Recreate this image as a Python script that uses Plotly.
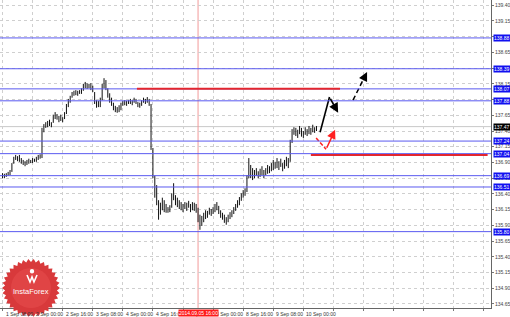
import numpy as np
import plotly.graph_objects as go

# ---------------- data ----------------
tick_bars = [0, 16, 32, 48, 64, 80, 96, 112, 128, 144, 160]
tick_labels = ["1 Sep 08:00", "2 Sep 00:00", "2 Sep 16:00", "3 Sep 08:00", "4 Sep 00:00",
               "4 Sep 16:00", "5 Sep 08:00", "8 Sep 00:00", "8 Sep 16:00", "9 Sep 08:00",
               "10 Sep 00:00"]
grid_bars = [0, 16, 32, 48, 64, 80, 96, 112, 128, 144, 160, 176, 192, 208, 224, 240, 256]

price_ticks = [134.65, 134.90, 135.15, 135.40, 135.65, 135.90, 136.15, 136.40, 136.65,
               136.90, 137.15, 137.40, 137.65, 137.90, 138.15, 138.40, 138.65, 138.90,
               139.15, 139.40]
price_tick_text = ["134.65", "134.90", "135.15", "135.40", "135.65", "135.90", "136.15",
                   "136.40", "136.65", "136.90", "137.15", "137.40", "137.65", "",
                   "138.15", "", "138.65", "", "139.15", "139.40"]

bar_high = [
    136.73, 136.72, 136.73, 136.75, 136.78, 136.89, 136.99, 137.02, 137.00, 137.02,
    136.97, 136.94, 136.92, 136.94, 136.96, 136.94, 136.97, 136.96, 136.99, 137.02,
    137.03, 137.45, 137.51, 137.54, 137.56, 137.58, 137.54, 137.66, 137.70, 137.67,
    137.64, 137.66, 137.62, 137.70, 137.83, 137.91, 137.96, 138.02, 138.04, 138.05,
    138.04, 138.05, 138.08, 138.15, 138.18, 138.16, 138.15, 138.16, 138.12, 138.02,
    137.89, 137.88, 137.93, 138.15, 138.24, 138.21, 138.08, 138.00, 137.93, 137.85,
    137.80, 137.78, 137.81, 137.85, 137.88, 137.89, 137.88, 137.89, 137.91, 137.89,
    137.93, 137.91, 137.86, 137.85, 137.89, 137.93, 137.91, 137.94, 137.91, 137.83,
    137.13, 136.69, 136.54, 136.30, 136.26, 136.34, 136.30, 136.24, 136.19, 136.22,
    136.41, 136.57, 136.38, 136.34, 136.30, 136.27, 136.24, 136.27, 136.26, 136.29,
    136.24, 136.27, 136.26, 136.24, 136.18, 136.07, 136.05, 136.10, 136.14, 136.13,
    136.18, 136.16, 136.19, 136.24, 136.27, 136.21, 136.14, 136.10, 136.07, 136.03,
    136.07, 136.11, 136.14, 136.19, 136.24, 136.30, 136.35, 136.41, 136.46, 136.49,
    136.70, 136.97, 136.86, 136.81, 136.78, 136.81, 136.76, 136.80, 136.84, 136.78,
    136.81, 136.86, 136.84, 136.89, 136.94, 136.91, 136.97, 136.92, 136.96, 136.89,
    136.94, 136.99, 136.97, 137.26, 137.43, 137.46, 137.45, 137.42, 137.48, 137.45,
    137.40, 137.46, 137.43, 137.48, 137.45, 137.50, 137.46, 137.48]

bar_low = [
    136.65, 136.65, 136.67, 136.69, 136.70, 136.75, 136.88, 136.94, 136.92, 136.91,
    136.88, 136.86, 136.84, 136.86, 136.88, 136.89, 136.89, 136.91, 136.91, 136.94,
    136.96, 136.97, 137.38, 137.45, 137.46, 137.48, 137.46, 137.53, 137.59, 137.58,
    137.54, 137.56, 137.54, 137.59, 137.67, 137.78, 137.85, 137.93, 137.96, 137.97,
    137.96, 137.99, 137.99, 138.04, 138.08, 138.07, 138.08, 138.05, 138.02, 137.83,
    137.77, 137.78, 137.78, 137.89, 138.08, 138.05, 137.93, 137.85, 137.80, 137.73,
    137.70, 137.69, 137.70, 137.73, 137.80, 137.81, 137.80, 137.83, 137.83, 137.81,
    137.85, 137.83, 137.78, 137.77, 137.80, 137.85, 137.83, 137.85, 137.80, 137.10,
    136.65, 136.34, 136.22, 135.99, 136.07, 136.14, 136.11, 136.10, 136.10, 136.11,
    136.18, 136.30, 136.22, 136.19, 136.16, 136.14, 136.11, 136.16, 136.13, 136.18,
    136.11, 136.14, 136.13, 136.10, 135.95, 135.83, 135.89, 135.95, 136.00, 136.02,
    136.07, 136.05, 136.08, 136.11, 136.14, 136.08, 136.02, 135.99, 135.94, 135.91,
    135.95, 136.00, 136.03, 136.08, 136.13, 136.18, 136.22, 136.29, 136.34, 136.37,
    136.43, 136.65, 136.65, 136.62, 136.65, 136.69, 136.65, 136.67, 136.70, 136.65,
    136.70, 136.72, 136.73, 136.76, 136.78, 136.80, 136.81, 136.78, 136.83, 136.76,
    136.80, 136.84, 136.81, 136.91, 137.21, 137.34, 137.32, 137.29, 137.35, 137.31,
    137.29, 137.34, 137.32, 137.35, 137.34, 137.38, 137.37, 137.40]

blue_levels = [138.88, 138.39, 138.07, 137.88, 137.24, 137.04, 136.69, 136.51, 135.80]
blue_labels = ["138.88", "138.39", "138.07", "137.88", "137.24", "137.04", "136.69",
               "136.51", "135.80"]
red_levels = [138.07, 137.02]
red_starts = [71.5, 164.0]
red_ends = [179.5, 258.0]
current_price = 137.47
current_label = "137.47"
marker_bar = 104
marker_label = "2014.09.05 16:00"

# forecast drawings (bar, price)
black_path_x = [168.9, 173.9, 178.5]
black_path_y = [137.38, 137.94, 137.69]
dash_path_x = [186.4, 193.9]
dash_path_y = [137.89, 138.34]
red_path_x = [166.8, 172.1, 176.9]
red_path_y = [137.29, 137.11, 137.42]

# ---------------- figure ----------------
W, H = 510, 317
ML, MR, MT, MB = 0, 19, 0, 9
PW, PH = W - ML - MR, H - MT - MB
XR = [-1.33, 259.8]
YR = [134.586, 139.483]
FONT = "Liberation Sans"

seg_x, seg_y = [], []
for i, (hi, lo) in enumerate(zip(bar_high, bar_low)):
    seg_x += [i, i, None]
    seg_y += [lo, hi, None]

fig = go.Figure()
fig.add_trace(go.Scatter(x=seg_x, y=seg_y, mode="lines",
                         line=dict(color="#111111", width=1), hoverinfo="skip",
                         showlegend=False))

shapes = []
shapes.append(dict(type="line", xref="paper", x0=0, x1=1, yref="y", y0=current_price,
                   y1=current_price, line=dict(color="#c8c8c8", width=1), layer="below"))
shapes.append(dict(type="line", xref="x", x0=marker_bar, x1=marker_bar, yref="paper",
                   y0=0, y1=1, line=dict(color="#f29a9a", width=1), layer="below"))
for lv in blue_levels:
    shapes.append(dict(type="line", xref="paper", x0=0, x1=1, yref="y", y0=lv, y1=lv,
                       line=dict(color="#5a5af0", width=1)))
for lv, a, b in zip(red_levels, red_starts, red_ends):
    shapes.append(dict(type="line", xref="x", x0=a, x1=b, yref="y", y0=lv, y1=lv,
                       line=dict(color="#e3262e", width=2)))

# InstaForex badge (decoration)
cx, cy = 31, 288
n = 34
pts = []
for i in range(2 * n):
    r = 29 if i % 2 == 0 else 26
    ang = np.pi * i / n
    pts.append(((cx + r * np.cos(ang)) / PW, (PH - (cy + r * np.sin(ang))) / PH))
path = "M " + " L ".join(f"{x:.4f},{y:.4f}" for x, y in pts) + " Z"
shapes.append(dict(type="path", xref="paper", yref="paper", path=path,
                   fillcolor="#d8393b", line=dict(width=0), layer="above"))
shapes.append(dict(type="circle", xref="paper", yref="paper",
                   x0=(cx - 20) / PW, x1=(cx + 20) / PW,
                   y0=(PH - cy - 20) / PH, y1=(PH - cy + 20) / PH,
                   fillcolor="rgba(240,90,90,0.35)", line=dict(width=0), layer="above"))
ix, iy = 32, 277
shapes.append(dict(type="circle", xref="paper", yref="paper",
                   x0=(ix - 2.2) / PW, x1=(ix + 2.2) / PW,
                   y0=(PH - iy + 3.5) / PH, y1=(PH - iy + 7.9) / PH,
                   fillcolor="white", line=dict(width=0), layer="above"))
icon = [(ix - 5, iy - 2), (ix - 2, iy + 5), (ix, iy), (ix + 2, iy + 5), (ix + 5, iy - 2)]
shapes.append(dict(type="path", xref="paper", yref="paper",
                   path="M " + " L ".join(f"{x / PW:.4f},{(PH - y) / PH:.4f}" for x, y in icon),
                   line=dict(color="white", width=1.6), layer="above"))

annotations = []
for tb, tl in zip(tick_bars, tick_labels):
    annotations.append(dict(x=tb, y=0, xref="x", yref="paper", text=tl, showarrow=False,
                            xanchor="left", yanchor="top", xshift=1, yshift=-1,
                            font=dict(size=5, color="#333333", family=FONT)))
annotations.append(dict(x=marker_bar, y=0, xref="x", yref="paper", text=marker_label,
                        showarrow=False, xanchor="center", yanchor="top", yshift=-1,
                        bgcolor="#ff1a1a", borderpad=0,
                        font=dict(size=5, color="white", family=FONT)))
for lv, lb in zip(blue_levels, blue_labels):
    annotations.append(dict(x=1, y=lv, xref="paper", yref="y", text=lb, showarrow=False,
                            xanchor="left", yanchor="middle", xshift=2, bgcolor="#1010f0",
                            borderpad=0, font=dict(size=5, color="white", family=FONT)))
annotations.append(dict(x=1, y=current_price, xref="paper", yref="y", text=current_label,
                        showarrow=False, xanchor="left", yanchor="middle", xshift=2,
                        bgcolor="#000000", borderpad=0,
                        font=dict(size=5, color="white", family=FONT)))
annotations.append(dict(x=cx / PW, y=(PH - 291) / PH, xref="paper", yref="paper",
                        text="InstaForex", showarrow=False, xanchor="center",
                        yanchor="middle", font=dict(size=7.5, color="white", family=FONT)))

# forecast drawings
fig.add_trace(go.Scatter(x=black_path_x[:2], y=black_path_y[:2], mode="lines",
                         line=dict(color="#000000", width=1.6), hoverinfo="skip",
                         showlegend=False))
annotations.append(dict(x=black_path_x[2], y=black_path_y[2], ax=black_path_x[1],
                        ay=black_path_y[1], xref="x", yref="y", axref="x", ayref="y",
                        text="", showarrow=True, arrowhead=2, arrowsize=1.2,
                        arrowwidth=1.6, arrowcolor="#000000"))
fig.add_trace(go.Scatter(x=dash_path_x, y=dash_path_y, mode="lines",
                         line=dict(color="#000000", width=1.5, dash="5px,3px"),
                         hoverinfo="skip", showlegend=False))
annotations.append(dict(x=dash_path_x[1], y=dash_path_y[1], ax=-4, ay=8,
                        xref="x", yref="y", text="", showarrow=True, arrowhead=2,
                        arrowsize=1.2, arrowwidth=1.5, arrowcolor="#000000"))
fig.add_trace(go.Scatter(x=red_path_x[:2], y=red_path_y[:2], mode="lines",
                         line=dict(color="#ff2020", width=1.5, dash="4px,2px"),
                         hoverinfo="skip", showlegend=False))
annotations.append(dict(x=red_path_x[2], y=red_path_y[2], ax=red_path_x[1],
                        ay=red_path_y[1], xref="x", yref="y", axref="x", ayref="y",
                        text="", showarrow=True, arrowhead=2, arrowsize=1.2,
                        arrowwidth=1.5, arrowcolor="#ff2020"))

fig.update_layout(
    width=W, height=H,
    margin=dict(l=ML, r=MR, t=MT, b=MB, pad=0),
    paper_bgcolor="white", plot_bgcolor="white",
    showlegend=False,
    shapes=shapes, annotations=annotations,
    xaxis=dict(range=XR, tickmode="array", tickvals=grid_bars, showticklabels=False,
               ticks="outside", ticklen=2, tickcolor="#777777",
               showgrid=True, gridcolor="#cfcfcf", griddash="dot", gridwidth=1,
               zeroline=False, showline=True, linecolor="#666666", linewidth=1,
               fixedrange=True),
    yaxis=dict(range=YR, side="right", tickmode="array", tickvals=price_ticks,
               ticktext=price_tick_text,
               ticks="outside", ticklen=2, tickcolor="#777777",
               tickfont=dict(size=5, color="#444444", family=FONT),
               showgrid=True, gridcolor="#cfcfcf", griddash="dot", gridwidth=1,
               zeroline=False, showline=True, linecolor="#666666", linewidth=1,
               fixedrange=True),
)

fig.write_html("out.html")
